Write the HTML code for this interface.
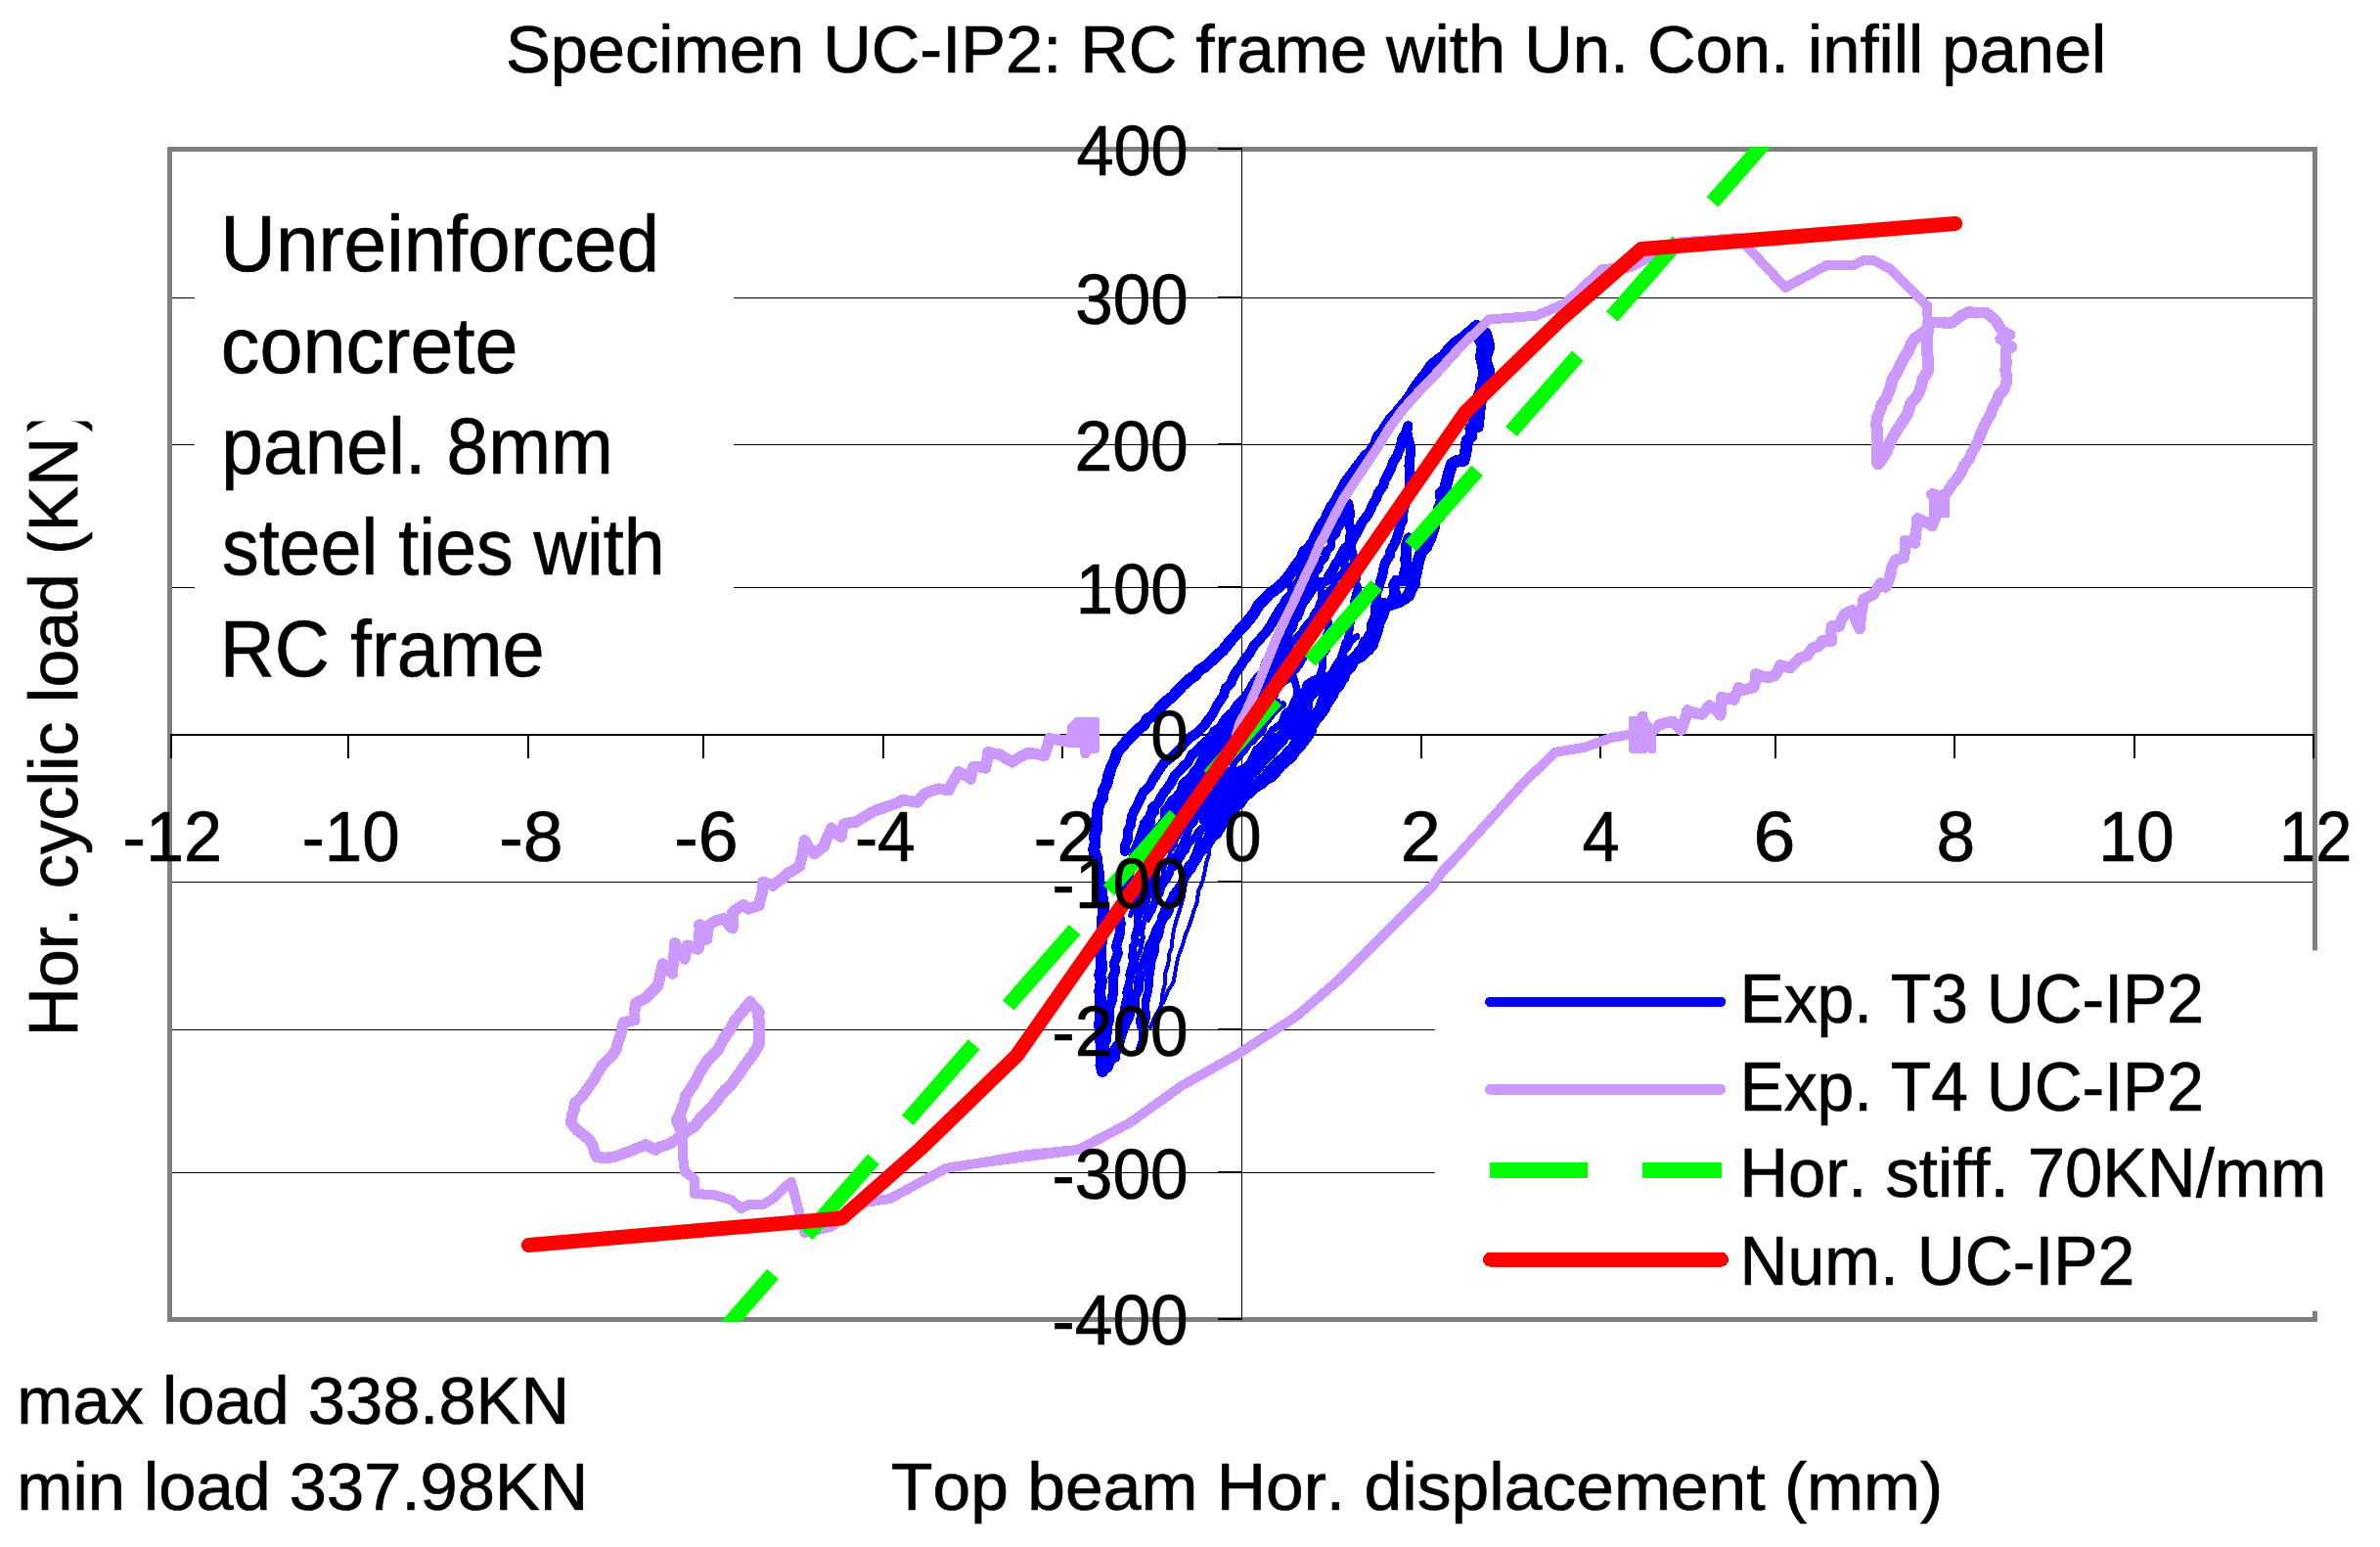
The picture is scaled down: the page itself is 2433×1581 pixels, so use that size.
<!DOCTYPE html>
<html><head><meta charset="utf-8"><title>Specimen UC-IP2</title>
<style>html,body{margin:0;padding:0;background:#fff;overflow:hidden}svg{display:block}
text{font-family:"Liberation Sans",sans-serif;fill:#000;font-kerning:none;stroke:#000;stroke-width:0.7px}</style></head><body>
<svg width="2433" height="1581" viewBox="0 0 2433 1581">
<rect x="0" y="0" width="2433" height="1581" fill="#fff"/>
<defs><clipPath id="plot"><rect x="171.4" y="150.2" width="2197.2" height="1200.6"/></clipPath>
<clipPath id="ycl"><rect x="0" y="430.6" width="170" height="700"/></clipPath></defs>
<g stroke="#000" stroke-width="1" shape-rendering="crispEdges">
<line x1="173.7" y1="304.5" x2="2366.2" y2="304.5"/>
<line x1="173.7" y1="454.5" x2="2366.2" y2="454.5"/>
<line x1="173.7" y1="600.5" x2="2366.2" y2="600.5"/>
<line x1="173.7" y1="901.5" x2="2366.2" y2="901.5"/>
<line x1="173.7" y1="1052.5" x2="2366.2" y2="1052.5"/>
<line x1="173.7" y1="1198.5" x2="2366.2" y2="1198.5"/>
</g>
<rect x="173.7" y="152.7" width="2192.5" height="1195.6" fill="none" stroke="#808080" stroke-width="4.8" shape-rendering="crispEdges"/>
<rect x="199" y="190" width="551" height="535" fill="#fff"/>
<g stroke="#000" shape-rendering="crispEdges">
<line x1="173.7" y1="751" x2="2366.2" y2="751" stroke-width="2"/>
<line x1="1269.5" y1="152.7" x2="1269.5" y2="1348.3" stroke-width="1.2"/>
<line x1="174.6" y1="751" x2="174.6" y2="775" stroke-width="2"/>
<line x1="356.1" y1="751" x2="356.1" y2="775" stroke-width="2"/>
<line x1="539.7" y1="751" x2="539.7" y2="775" stroke-width="2"/>
<line x1="719.2" y1="751" x2="719.2" y2="775" stroke-width="2"/>
<line x1="902.7" y1="751" x2="902.7" y2="775" stroke-width="2"/>
<line x1="1085.7" y1="751" x2="1085.7" y2="775" stroke-width="2"/>
<line x1="1269.5" y1="751" x2="1269.5" y2="775" stroke-width="2"/>
<line x1="1452.5" y1="751" x2="1452.5" y2="775" stroke-width="2"/>
<line x1="1636.2" y1="751" x2="1636.2" y2="775" stroke-width="2"/>
<line x1="1814.5" y1="751" x2="1814.5" y2="775" stroke-width="2"/>
<line x1="1998.0" y1="751" x2="1998.0" y2="775" stroke-width="2"/>
<line x1="2182.0" y1="751" x2="2182.0" y2="775" stroke-width="2"/>
<line x1="2365.3" y1="751" x2="2365.3" y2="775" stroke-width="2"/>
<line x1="1244.7" y1="152.2" x2="1269.5" y2="152.2" stroke-width="2"/>
<line x1="1244.7" y1="304.0" x2="1269.5" y2="304.0" stroke-width="2"/>
<line x1="1244.7" y1="454.0" x2="1269.5" y2="454.0" stroke-width="2"/>
<line x1="1244.7" y1="600.0" x2="1269.5" y2="600.0" stroke-width="2"/>
<line x1="1244.7" y1="750.0" x2="1269.5" y2="750.0" stroke-width="2"/>
<line x1="1244.7" y1="901.0" x2="1269.5" y2="901.0" stroke-width="2"/>
<line x1="1244.7" y1="1052.0" x2="1269.5" y2="1052.0" stroke-width="2"/>
<line x1="1244.7" y1="1198.0" x2="1269.5" y2="1198.0" stroke-width="2"/>
<line x1="1244.7" y1="1347.8" x2="1269.5" y2="1347.8" stroke-width="2"/>
</g>
<g clip-path="url(#plot)" shape-rendering="crispEdges" stroke-linejoin="round" stroke-linecap="round">
<polyline points="1127.0,1095.0 1125.4,1088.3 1125.6,1080.0 1126.0,1071.5 1125.2,1064.0 1125.4,1056.9 1123.8,1047.2 1125.4,1040.3 1124.4,1032.5 1125.2,1024.1 1124.6,1018.6 1124.3,1011.9 1126.0,1002.5 1124.1,996.5 1126.5,988.9 1125.6,982.0 1125.3,974.6 1125.2,967.0 1126.5,960.4 1126.4,952.6 1126.7,946.0 1127.2,937.7 1128.1,931.7 1127.9,924.3 1126.4,915.8 1126.3,909.9 1123.2,901.1 1123.1,893.9 1122.0,886.0 1120.8,876.8 1118.1,868.6 1119.6,861.4 1119.1,853.7 1121.2,846.8 1121.1,838.6 1121.8,830.8 1123.0,822.6 1127.1,815.5 1127.9,808.2 1131.4,801.0 1133.2,793.0 1135.8,784.8 1139.1,777.6 1142.0,768.9 1147.3,762.9 1152.5,756.2 1156.7,752.1 1163.0,745.8 1169.2,741.0 1172.8,734.9 1178.1,731.8 1183.8,725.7 1188.2,720.6 1194.5,714.9 1199.1,711.5 1204.6,705.2 1209.3,700.3 1216.4,693.9 1221.4,690.8 1226.1,684.9 1233.0,680.5 1238.8,674.9 1244.2,669.6 1250.0,664.8 1253.6,660.2 1259.4,653.2 1263.9,648.4 1268.1,642.6 1273.2,637.8 1277.7,632.1 1283.0,625.3 1286.7,618.0 1292.9,611.9 1298.3,606.3 1306.1,601.0 1312.1,595.3 1317.5,588.7 1321.1,583.7 1326.3,576.0 1330.1,571.1 1333.1,564.0 1339.1,558.7 1342.7,553.4 1346.0,546.1 1350.7,537.2 1355.3,530.7 1358.0,524.3 1361.5,517.3 1366.2,511.3 1369.2,505.0 1372.9,498.6 1376.3,492.1 1381.3,485.3 1385.6,479.7 1389.7,474.4 1395.7,466.4 1401.0,461.6 1405.8,454.5 1408.4,447.0 1412.5,442.4 1416.3,436.1 1420.9,429.3 1426.4,423.5 1430.3,418.7 1436.0,411.7 1441.1,405.4 1444.2,399.5 1449.0,393.0 1453.7,386.5 1458.3,380.9 1462.7,374.2 1468.8,368.8 1475.8,363.8 1480.1,357.9 1486.4,351.2 1493.5,346.6 1501.5,339.8 1509.7,332.8 1519.2,341.0 1522.5,354.0 1518.5,367.0 1522.5,380.0 1520.6,388.3 1517.5,397.0 1514.4,405.8 1512.5,417.0 1506.5,429.3" fill="none" stroke="#0000FF" stroke-width="11.8" />
<polyline points="1512.0,336.0 1512.9,340.3 1513.3,348.3 1516.0,352.0 1515.3,359.3 1514.0,365.0 1515.7,371.0 1517.0,378.0 1516.9,384.0 1516.1,390.0 1514.0,395.0 1515.0,399.8 1511.8,403.6 1513.7,408.7 1513.0,415.5 1512.0,420.0" fill="none" stroke="#0000FF" stroke-width="12.3" />
<polyline points="1512.0,420.0 1511.4,428.6 1510.5,436.0 1503.6,437.7 1504.1,446.0 1499.7,450.4 1499.3,456.3 1497.9,464.3 1496.3,470.6 1490.8,470.7 1484.5,473.9 1481.7,481.9 1479.5,490.8 1477.1,499.7 1472.8,504.2 1474.2,512.2 1471.4,518.8 1471.1,527.7 1466.4,532.0 1465.5,539.7 1462.5,548.6 1460.4,553.6 1457.6,559.7 1453.6,563.2 1451.2,569.3 1449.2,576.5 1447.6,585.0 1446.6,587.7 1445.9,596.7 1442.5,601.7 1440.2,608.5 1435.8,611.8 1430.1,615.0 1421.4,617.8 1415.1,617.6 1415.3,622.1 1412.6,630.6 1409.5,635.8 1407.9,643.5 1406.1,649.1 1403.7,655.4 1402.5,659.7 1398.0,664.4 1390.2,671.3 1383.6,674.4 1381.1,680.6 1375.4,686.2 1373.1,693.3 1367.0,691.8 1360.9,692.3 1352.1,693.3 1349.0,698.1 1344.3,705.4 1337.4,710.1 1336.2,716.5 1335.5,723.1 1332.8,727.7 1332.4,737.2 1331.1,741.6 1324.6,743.2 1318.5,749.6 1310.1,752.1 1307.7,756.2 1302.8,761.1 1298.2,767.5 1292.1,775.6 1289.1,779.4 1282.1,783.2 1280.2,785.6 1272.1,792.1 1268.1,794.1 1264.6,800.3 1259.7,804.0 1257.2,810.6 1255.5,815.1" fill="none" stroke="#0000FF" stroke-width="12.3" />
<polyline points="1440.0,550.0 1437.6,557.5 1437.5,564.7 1436.9,572.3 1438.1,577.1 1435.4,587.6 1437.5,593.3 1427.4,593.3 1424.7,598.4 1426.2,605.8 1423.9,612.1 1420.7,618.5 1413.9,616.8 1412.5,621.1 1410.5,630.0 1408.1,635.3 1406.0,640.0 1403.6,643.8 1400.9,651.8 1395.8,655.0 1393.5,662.7 1388.8,667.5 1381.9,674.2 1374.6,677.4 1372.0,685.6 1367.1,691.3 1364.1,696.3 1356.9,698.2 1351.8,694.5 1343.1,696.3 1336.6,700.7 1335.3,707.2 1328.4,713.1 1327.7,718.5 1325.9,725.2 1324.0,732.4 1323.7,740.1 1322.1,744.6 1315.9,750.0 1309.7,753.8 1301.1,755.1 1297.7,759.1 1294.3,768.1 1290.3,771.8 1285.2,775.7 1280.1,782.4 1276.3,786.4 1268.7,787.8 1265.9,795.6 1259.1,797.1 1254.1,803.7 1252.4,806.1 1248.7,814.0 1246.5,818.1" fill="none" stroke="#0000FF" stroke-width="11.2" />
<polyline points="1259.2,795.5 1254.0,801.9 1250.1,809.6 1244.7,817.9 1241.6,825.8 1239.1,834.3 1234.8,840.1 1230.4,847.8 1226.5,856.0 1223.0,863.2 1220.6,874.1 1219.9,882.2 1217.3,888.7 1213.3,898.5 1211.3,906.5 1209.9,916.0 1208.2,922.1 1205.3,932.2 1202.9,939.1 1200.7,947.3 1198.7,956.9 1198.1,967.4 1195.1,975.2 1194.3,985.5 1191.2,994.7 1191.1,1005.2 1188.7,1013.3 1187.7,1022.8 1186.1,1032.5 1180.0,1040.7 1176.0,1050.0" fill="none" stroke="#0000FF" stroke-width="4.0" />
<polyline points="1254.2,803.1 1251.2,813.1 1248.4,822.9 1244.1,830.8 1242.9,840.9 1238.9,848.3 1239.7,857.7 1236.5,866.1 1236.0,873.3 1233.1,882.1 1231.5,891.3 1229.1,901.6 1225.0,910.7 1223.9,921.6 1220.1,931.7 1218.4,938.2 1215.3,947.0 1211.3,956.9 1209.2,965.2 1204.8,976.9 1202.9,984.4 1201.3,994.7 1199.4,1004.2 1193.9,1012.9 1191.2,1019.9 1185.7,1030.5 1180.0,1040.0" fill="none" stroke="#0000FF" stroke-width="4.0" />
<polyline points="1128.0,1086.8 1129.6,1081.4 1129.5,1073.4 1128.8,1068.3 1131.0,1062.3 1131.5,1056.0 1131.9,1049.7 1134.1,1042.2 1134.3,1036.7 1134.0,1030.0 1136.6,1022.8 1137.4,1017.8 1138.3,1010.4 1138.0,1004.5 1137.5,999.2 1140.3,991.9 1138.9,985.0 1141.2,979.0 1142.8,973.7 1141.2,967.6 1142.4,962.2 1144.7,954.8 1144.6,949.1 1145.8,943.7 1144.1,935.6 1146.2,929.8 1147.9,923.2 1149.3,916.6 1151.5,911.9 1150.6,906.4 1152.5,899.0 1154.4,892.8 1155.0,889.0 1157.8,880.5 1159.4,874.5 1159.9,870.0 1161.7,865.6 1164.9,858.2 1166.4,852.8 1168.0,849.1 1170.0,841.7 1174.4,836.1 1177.4,830.0 1178.2,825.1 1183.6,821.0 1186.5,815.6 1189.8,810.1 1194.7,803.8 1197.7,799.1 1201.4,791.9 1205.6,787.8 1210.9,782.1 1214.7,778.7 1218.3,771.4 1222.7,768.1 1228.0,762.1 1233.0,757.9 1237.4,754.2 1241.4,747.6 1247.8,743.3 1250.5,737.9 1255.7,731.9 1260.4,728.0 1263.9,722.1 1269.1,716.8 1272.6,713.4 1277.3,706.2 1280.2,700.7 1283.5,695.9 1287.8,690.6 1292.1,686.3 1294.0,677.9 1297.9,672.5 1300.0,669.0 1303.7,663.2 1307.9,658.3 1312.8,650.0 1315.2,645.8 1317.7,641.5 1322.3,634.3 1326.3,629.9 1328.8,623.2 1331.1,617.3 1334.6,612.5 1339.4,605.4 1342.5,600.9 1350.1,595.9 1356.8,593.3 1358.4,588.1 1362.3,583.3 1365.2,576.5 1369.2,571.6 1371.3,566.4 1374.8,560.3 1380.8,555.6 1384.4,548.7 1387.4,544.2 1390.4,537.8 1392.7,533.4 1398.3,526.2 1401.3,520.5 1403.2,515.6 1407.2,509.2 1408.7,504.0 1414.2,496.3 1415.6,490.8 1419.7,483.4 1422.3,477.8 1424.0,472.3 1428.2,465.9 1430.9,458.6 1432.4,453.8 1433.4,448.6 1437.3,441.6 1439.2,435.3 1438.2,441.3 1439.5,447.8 1441.8,456.9 1442.0,463.7 1441.0,470.0 1440.5,476.0 1441.6,483.4 1441.0,491.8 1440.8,499.2 1439.4,504.3 1436.8,512.0 1435.4,518.4 1434.4,524.1 1434.1,531.1" fill="none" stroke="#0000FF" stroke-width="10.1" />
<polyline points="1434.1,531.1 1431.3,536.8 1430.1,543.3 1427.4,551.3 1425.3,556.5 1421.6,562.5 1420.7,568.1 1417.0,573.5 1414.9,578.1 1413.9,584.9 1411.2,594.3 1408.9,601.7 1406.8,607.2 1407.3,615.6 1406.1,620.3 1406.3,625.5 1405.0,632.5 1401.8,638.3 1401.9,645.8 1398.0,652.0 1394.4,656.7 1392.5,661.4 1389.0,665.8 1384.3,671.6 1382.9,677.6 1379.1,683.1 1375.2,688.7 1372.4,693.2 1370.2,699.7 1365.2,704.7 1362.8,710.9 1360.2,714.5 1356.2,720.5 1354.4,724.7 1349.5,731.9 1345.4,736.5 1341.8,742.4 1340.7,747.4 1337.8,752.0 1333.4,757.9 1329.4,763.1 1324.5,767.7 1320.7,774.2 1315.1,778.3 1309.3,783.4 1306.0,787.8 1301.0,793.7 1296.0,796.1 1289.2,801.7 1282.7,805.6 1278.6,810.2 1273.1,814.0 1268.2,821.0 1263.8,824.4 1260.0,831.2 1254.5,835.0 1251.2,840.1 1247.5,846.6 1244.4,851.9 1238.8,855.9 1235.2,862.6 1233.0,865.7 1226.8,871.3 1223.8,877.5 1219.6,883.0 1217.3,888.0 1212.1,894.1 1209.8,900.1 1208.1,906.1 1203.4,911.5 1200.4,915.4 1196.5,922.3 1195.1,929.0 1192.5,934.8 1188.5,939.5 1185.1,946.0 1182.5,950.1 1180.4,956.2 1178.2,961.7 1174.7,967.8 1173.6,974.6 1170.6,980.2 1168.6,987.7 1168.5,991.5 1165.6,998.1 1164.1,1003.4 1163.7,1012.0 1160.8,1016.5 1157.8,1021.3 1156.7,1027.8 1155.4,1034.5 1154.1,1039.7 1149.4,1048.3 1148.6,1052.1 1146.4,1057.9 1144.0,1067.0 1141.7,1071.8 1139.7,1078.9 1134.9,1084.4 1132.5,1091.3" fill="none" stroke="#0000FF" stroke-width="10.1" />
<polyline points="1132.5,1088.3 1134.3,1084.1 1136.6,1077.8 1139.1,1070.9 1144.5,1065.2 1146.0,1060.4 1148.1,1054.9 1150.8,1049.4 1150.5,1044.2 1150.8,1036.1 1151.2,1030.0 1153.0,1025.7 1153.5,1017.1 1153.7,1013.5 1153.8,1006.2 1155.3,1000.0 1155.8,993.9 1156.9,987.6 1158.7,981.1 1158.1,974.6 1158.0,967.4 1161.3,962.7 1159.9,958.0 1162.0,951.4 1163.8,944.1 1163.2,939.9 1163.4,933.6 1164.2,927.4 1166.9,922.2 1167.2,914.9 1170.1,908.5 1170.0,901.0 1172.8,895.7 1173.3,890.4 1176.4,883.4 1177.4,875.6 1180.0,870.0 1181.3,863.3 1184.8,857.3 1187.9,852.3 1192.2,844.1 1193.4,837.9 1196.5,832.6 1200.9,828.7 1203.4,822.7 1207.6,815.1 1212.9,810.8 1215.0,805.7 1219.1,800.3 1223.8,795.2 1227.6,789.7 1231.9,783.9 1234.4,778.0 1238.3,774.0 1243.0,769.5 1247.3,763.8 1251.2,757.9 1256.1,751.0 1256.6,745.6 1261.2,741.3 1265.7,735.0 1269.8,728.4 1272.8,723.4 1276.3,717.2 1278.6,713.0 1283.1,708.0 1286.2,701.6 1286.8,697.0 1290.6,688.5 1294.2,683.9 1296.8,677.1 1298.8,672.6 1302.8,665.4 1306.0,660.7 1308.9,655.6 1312.8,649.0 1314.8,642.8 1317.4,636.5 1321.1,630.5 1325.0,626.4 1327.7,618.6 1330.0,614.0 1333.4,608.4 1335.0,604.2 1339.9,597.2 1342.6,590.7 1344.0,586.0 1348.4,580.8 1349.0,575.1 1354.6,569.9 1356.2,563.5 1360.6,558.7 1361.5,550.5 1365.5,546.3 1368.0,539.9 1372.5,532.4 1374.5,526.1 1377.2,521.5 1379.1,514.2 1380.2,520.0 1380.6,526.1 1379.5,534.8 1381.1,539.3 1379.7,546.6 1381.7,553.2 1380.9,559.0 1383.2,565.7 1383.9,571.3 1383.6,576.8 1385.0,583.0 1387.1,588.2 1385.9,595.6 1388.2,600.9 1386.2,607.1 1384.4,614.7 1383.6,619.5 1383.9,626.5 1381.0,634.1 1380.1,638.9 1379.1,645.8 1378.2,653.0 1375.4,657.8 1373.3,665.3 1371.2,671.0 1368.8,678.7 1365.4,684.7 1363.5,690.6 1361.5,697.7 1359.1,702.7 1353.9,707.7 1352.7,711.8 1349.2,719.7 1347.6,725.5 1342.3,730.2 1340.7,735.4 1337.5,741.4 1331.7,745.0 1329.2,753.0 1324.1,757.0 1320.4,763.8 1315.2,768.3 1311.3,773.6 1305.5,777.6 1301.0,782.6 1297.0,786.8 1293.0,792.4 1286.7,797.1 1283.2,802.7 1278.3,806.7 1274.9,809.8 1268.7,814.6 1264.0,820.1 1259.2,822.1 1256.0,828.4 1252.2,832.0 1246.2,837.1 1242.1,840.1 1239.4,845.6 1235.5,852.6 1233.3,858.2 1227.3,862.0 1224.7,867.1 1222.4,872.4 1219.3,879.6 1214.7,885.0 1212.0,890.5 1209.9,896.8 1206.8,903.7 1203.1,909.7 1199.5,913.6 1197.5,919.9 1192.8,926.2 1190.3,930.3 1187.3,937.3 1187.0,943.8 1186.0,950.5 1184.5,956.3 1181.0,963.5 1181.3,971.0 1179.6,975.4 1177.4,981.7 1176.4,989.6 1175.3,996.9 1174.5,1002.2 1174.5,1006.5 1174.0,1012.3 1171.8,1019.7 1170.9,1026.9 1171.0,1031.9 1171.9,1036.3 1171.3,1042.0 1169.1,1049.4 1168.2,1057.3 1168.1,1063.9 1165.4,1071.8" fill="none" stroke="#0000FF" stroke-width="8.4" />
<polyline points="1169.1,929.8 1170.2,923.3 1170.4,918.7 1171.2,911.5 1175.3,904.0 1175.5,899.6 1175.1,892.7 1178.4,886.8 1179.8,879.8 1179.4,873.5 1181.5,870.0 1182.8,862.5 1185.9,857.8 1188.1,852.1 1190.0,845.0 1194.7,840.8 1196.8,833.2 1199.1,828.0 1202.0,824.3 1205.6,817.7 1208.5,813.6 1214.6,805.6 1216.9,801.6 1219.7,796.1 1226.5,789.7 1229.4,784.4 1233.0,780.3 1236.7,776.3 1238.9,768.3 1241.9,764.7 1245.1,758.0 1250.1,755.5 1253.3,748.6 1257.4,742.4 1260.4,738.4 1264.0,732.3 1267.6,729.8 1269.2,723.5 1274.4,717.1 1276.7,714.8 1282.5,707.0 1285.0,704.6 1287.8,698.1 1290.3,692.8 1293.1,686.4 1298.6,681.5 1302.3,674.3 1304.4,671.2 1308.6,664.3 1311.4,660.4 1315.2,653.2 1318.2,646.1 1321.8,641.5 1323.5,635.5 1326.4,630.2 1328.1,625.6 1331.0,620.5 1333.6,614.9 1338.0,608.4 1343.5,600.9 1347.1,593.4 1349.3,599.0 1351.0,606.0 1350.9,614.1 1353.0,618.6 1356.1,625.0 1357.0,630.8 1358.1,638.3 1358.2,643.9 1354.8,652.6 1354.3,658.9 1356.0,664.2 1351.9,668.9 1351.7,676.4 1351.7,683.1 1349.3,690.8 1345.7,694.4 1343.7,700.7 1339.4,708.2 1338.6,712.9 1335.2,720.5 1331.8,726.5 1329.6,730.8 1326.7,735.5 1322.9,742.7 1320.1,747.2 1314.4,751.1 1312.4,757.9 1307.9,761.8 1303.7,766.5 1299.6,771.9 1292.6,776.8 1289.4,783.0 1285.0,787.8 1280.4,791.0 1276.5,797.8 1272.5,802.1 1266.6,806.5 1265.2,809.4 1259.8,813.7 1256.8,816.5 1251.2,822.2 1247.6,826.8 1242.5,831.8 1239.8,834.3 1235.6,840.0 1230.9,845.0 1225.5,849.4 1222.4,854.8 1217.9,859.1 1214.7,862.5 1212.2,868.3 1209.4,871.7 1205.2,878.9 1202.2,883.6 1197.0,888.2 1195.5,893.5 1191.9,899.9 1187.5,905.7 1185.7,912.5 1181.2,919.5 1179.2,925.7 1175.1,932.5 1173.6,937.3" fill="none" stroke="#0000FF" stroke-width="8" />
<polyline points="1196.5,855.0 1199.0,849.2 1201.3,842.9 1204.3,839.3 1206.1,831.5 1207.9,826.5 1209.4,822.9 1214.0,814.3 1214.7,810.2 1219.3,805.3 1221.2,799.0 1225.6,794.4 1229.0,789.8 1230.7,784.9 1236.8,780.3 1239.0,772.1 1242.1,768.3 1244.4,762.0 1251.3,757.5 1253.4,754.2 1257.2,748.0 1261.5,741.3 1265.9,738.7 1269.5,732.5 1272.3,726.0 1277.0,719.9 1281.2,716.8 1285.7,710.4 1290.2,703.6 1293.2,698.7 1296.9,693.6 1300.9,687.3 1305.1,682.1 1306.8,679.3 1312.9,673.0 1315.2,668.2 1316.7,673.6 1318.1,681.0 1319.6,685.6 1322.3,692.0 1324.8,700.3 1326.1,705.5 1325.2,712.1 1322.0,718.5 1319.0,726.0 1318.3,731.3 1317.0,738.4 1311.8,744.0 1309.6,749.6 1306.7,756.2 1300.9,761.4 1299.3,767.2 1294.2,772.8 1290.3,775.7 1285.7,781.3 1281.2,785.5 1277.5,790.1 1273.0,793.2 1268.6,800.1 1264.3,801.4 1260.4,807.2 1253.7,811.0 1248.8,813.2 1243.9,818.0 1241.7,821.8 1234.9,825.3 1229.9,829.0 1225.6,834.1 1220.4,836.2 1214.7,840.1 1210.6,847.0 1204.5,850.5 1201.4,857.5 1196.5,862.5" fill="none" stroke="#0000FF" stroke-width="7.5" />
<polyline points="1141.7,1082.3 1142.5,1076.5 1144.0,1068.7 1143.0,1063.1 1144.7,1058.1 1146.8,1051.2 1147.3,1045.1 1147.0,1038.2 1148.0,1033.3 1148.6,1026.7 1150.8,1019.5 1150.4,1014.1 1152.1,1007.3 1154.6,1000.1 1153.1,996.8 1155.4,988.4 1157.7,985.0 1156.0,977.4 1157.0,971.1 1159.4,964.7 1159.9,959.7 1161.9,951.8 1161.7,947.6 1163.8,939.8 1165.7,933.5 1166.4,925.6 1168.8,921.9 1171.0,914.4 1170.9,907.4 1172.4,900.7 1175.4,895.4 1175.7,887.9 1178.4,882.5 1181.7,876.2 1182.8,870.0" fill="none" stroke="#0000FF" stroke-width="6.0" />
<polyline points="1164.5,1049.4 1163.5,1043.3 1164.4,1037.2 1162.6,1028.7 1162.2,1022.0 1163.7,1015.1 1162.8,1008.7 1161.8,1002.7 1163.1,996.6 1161.8,989.6 1161.4,982.5 1162.8,977.9 1165.8,971.3 1166.9,964.7 1168.3,958.4 1167.3,952.2 1169.1,944.8 1170.3,939.1 1171.9,931.7 1172.6,925.3 1173.7,918.0 1176.6,913.6 1178.4,906.9 1178.2,899.9" fill="none" stroke="#0000FF" stroke-width="5.0" />
<polyline points="1150.0,870.0 1150.2,863.6 1153.2,857.3 1153.4,848.3 1156.1,842.5 1156.8,835.0 1159.1,829.4 1162.4,823.5 1165.6,816.5 1168.7,809.4 1175.2,803.5 1178.2,797.6 1181.7,792.2 1187.0,783.9 1190.8,778.7 1197.3,774.1 1203.4,768.6 1206.8,764.6 1211.1,759.3 1215.4,754.4 1221.1,750.9 1227.2,745.6 1231.8,740.6 1235.0,735.8 1239.5,730.2 1244.0,721.2 1247.6,715.6 1251.0,710.4 1252.9,703.1 1258.2,698.7 1260.2,693.0 1263.0,687.3 1266.9,682.8 1271.5,675.1 1276.2,669.5 1279.0,665.2 1282.1,659.1 1287.3,654.6 1290.5,649.8 1294.2,646.3 1297.7,641.2 1301.4,634.8 1304.8,629.1 1308.7,622.4 1312.0,618.0 1315.5,611.6 1320.3,608.1 1321.5,600.1 1327.0,595.8 1330.0,590.0 1332.2,584.6 1338.5,577.8 1340.3,572.2 1345.7,565.3 1348.0,560.0 1350.9,552.8 1355.4,547.4 1357.8,540.9 1362.0,535.0 1364.8,529.7 1371.7,525.8 1373.8,522.1 1378.6,516.1 1378.6,522.1 1378.0,528.5 1378.9,535.5 1381.4,542.3 1379.9,550.1 1381.1,556.5 1379.3,562.0 1375.8,568.4 1372.0,575.0" fill="none" stroke="#0000FF" stroke-width="10.1" />
<polyline points="1170.0,870.0 1173.0,861.5 1173.9,855.0 1176.3,847.6 1177.5,842.5 1178.0,835.0 1181.9,830.5 1182.8,822.5 1187.0,816.3 1188.5,810.2 1192.0,805.0 1197.6,800.4 1201.9,792.7 1206.8,787.8 1210.0,782.0 1214.7,776.9 1220.8,770.7 1226.7,766.6 1232.0,762.0 1237.2,758.3 1242.4,751.7 1248.1,748.5 1252.0,742.0 1256.5,737.8 1259.6,729.9 1264.5,726.8 1270.0,720.0" fill="none" stroke="#0000FF" stroke-width="6.0" />
<polyline points="1169.5,872.0 1172.6,865.2 1173.6,860.7 1177.3,853.2 1181.0,848.8 1186.3,842.1 1189.3,838.3 1189.3,828.7 1191.9,825.8 1196.2,818.5 1200.5,815.0 1206.0,808.7 1208.1,801.1 1210.0,798.8 1216.5,793.4 1220.0,787.8 1224.2,783.4 1227.6,776.6 1229.8,771.8 1234.4,768.3 1240.4,761.2 1241.0,756.4 1245.7,753.7 1249.9,748.8 1253.2,743.1 1257.8,738.3 1260.8,733.6 1266.4,729.2 1272.4,722.6 1273.1,719.0 1280.9,711.9 1283.3,708.5 1287.6,701.5 1290.4,695.5 1295.9,692.3 1299.5,687.9 1302.6,681.3 1305.1,675.5 1309.4,671.4 1314.6,667.2 1317.4,661.8 1321.1,656.4 1325.3,651.5 1329.7,647.6 1333.0,641.5 1336.0,638.0 1341.4,632.3 1342.6,628.0 1347.0,622.3 1349.2,616.1 1352.5,611.5 1357.1,605.3 1362.9,600.7 1363.6,594.4 1367.2,590.4 1372.8,585.0 1376.5,578.0" fill="none" stroke="#0000FF" stroke-width="7.38" />
<polyline points="1204.8,823.7 1206.7,817.1 1212.0,814.2 1214.8,806.8 1219.1,804.2 1222.6,799.0 1228.5,791.5 1231.8,787.6 1235.5,782.7 1238.9,779.9 1241.4,771.2 1248.6,768.0 1249.4,762.9 1253.8,760.6 1256.9,752.9 1262.2,749.5 1265.6,744.5 1271.7,740.6 1273.6,732.8 1279.8,730.7 1280.8,724.4 1288.5,718.8 1290.1,714.1 1295.5,707.6 1300.2,701.4 1303.6,696.5 1304.9,692.0 1309.8,687.3 1314.8,684.1 1319.8,679.7 1323.6,673.9 1325.4,667.8 1328.3,661.5 1333.3,658.1 1337.3,651.3 1339.1,649.6 1344.4,643.8 1346.1,637.6 1353.1,633.6 1355.2,628.1" fill="none" stroke="#0000FF" stroke-width="7.38" />
<polyline points="1242.6,788.2 1244.7,782.3 1249.3,780.3 1253.9,774.8 1256.0,769.2 1262.8,764.5 1266.9,761.2 1268.4,752.9 1272.7,750.1 1278.0,743.4 1279.3,740.5 1286.9,735.6 1291.6,727.8 1292.4,722.2 1300.3,716.9 1302.6,713.2 1305.0,706.2 1308.3,701.3 1313.3,696.8 1316.9,694.9 1320.0,689.4 1326.1,683.5 1329.2,679.3 1332.6,673.2" fill="none" stroke="#0000FF" stroke-width="6.56" />
<polyline points="1197.5,882.9 1200.4,878.0 1204.1,871.2 1206.2,868.2 1209.9,860.0 1211.6,856.3 1213.7,852.3 1216.5,844.8 1220.9,840.1 1221.8,834.2 1224.7,828.5 1229.2,822.6 1233.3,820.4 1236.3,815.9 1242.0,809.8 1244.7,803.2 1245.9,801.7 1251.3,794.9 1254.2,789.0 1260.4,786.4 1261.0,780.0 1265.3,775.0 1268.1,771.3 1273.0,766.0 1276.3,760.2 1281.2,757.0 1283.7,753.2 1290.8,746.6 1292.6,739.7 1296.9,735.1 1301.0,729.6 1305.8,724.0 1311.3,719.9" fill="none" stroke="#0000FF" stroke-width="7.38" />
<polyline points="1229.5,838.9 1233.2,834.4 1238.1,830.8 1241.9,823.9 1245.8,819.3 1246.8,813.2 1251.3,808.6 1254.0,805.6 1258.5,800.4 1263.3,796.7 1264.3,789.2 1268.7,786.4 1274.7,782.7 1278.8,777.1 1281.4,771.2 1283.8,766.2 1288.3,762.6 1292.7,757.7 1297.2,751.6 1300.9,745.7 1306.8,741.7 1310.8,737.3 1313.2,729.2 1318.4,725.4" fill="none" stroke="#0000FF" stroke-width="7.38" />
<polyline points="1238.0,844.1 1242.3,839.7 1247.1,834.8 1249.3,829.8 1254.5,823.6 1259.3,818.9 1261.4,811.3 1266.4,806.5 1271.5,801.4 1275.9,795.2 1280.9,788.4 1284.2,784.5 1285.7,780.3 1290.0,773.2 1296.1,768.9 1299.7,762.2 1303.4,756.5 1310.4,751.2 1312.0,745.9 1319.3,742.4 1323.3,738.8 1326.3,731.6 1330.1,726.1 1333.4,720.6 1338.0,718.3 1341.5,712.4 1346.8,707.7 1349.7,701.5 1351.2,695.8 1356.6,691.2 1361.8,685.9 1364.9,680.1 1368.4,674.8 1373.0,672.1 1373.7,666.5 1377.8,662.5 1382.0,654.2 1387.1,650.6" fill="none" stroke="#0000FF" stroke-width="6.56" />
<polyline points="1173.9,940.5 1175.0,936.4 1179.4,930.2 1180.5,924.1 1179.1,917.1 1181.9,911.5 1184.4,904.9 1186.7,899.0 1189.6,894.6 1189.5,887.9 1191.9,880.7 1196.2,874.8 1195.9,869.7 1201.2,864.3 1201.6,859.5 1205.0,854.7 1207.1,848.0 1210.7,844.0 1212.5,838.1 1216.7,831.0 1220.1,825.6 1223.0,821.1 1229.6,818.1 1233.4,811.6 1234.3,806.2 1239.7,800.4 1244.8,794.5 1246.6,791.2 1249.3,785.3 1252.7,780.0 1256.8,776.5 1263.3,772.4 1265.8,766.9 1267.7,763.0 1273.7,756.3 1276.6,753.2 1281.4,746.8 1285.9,742.1 1288.0,735.9 1294.9,732.3 1296.3,728.4 1301.4,720.6 1306.6,716.2" fill="none" stroke="#0000FF" stroke-width="4.92" />
<polyline points="1155.5,935.9 1158.1,928.0 1159.7,924.8 1162.4,917.3 1163.5,910.5 1164.9,903.3 1167.4,899.0 1167.7,891.9 1171.4,886.0 1174.1,881.9 1174.2,873.8 1178.4,866.3 1178.3,861.3 1182.4,857.1 1187.2,850.6 1189.3,844.8 1189.9,838.8 1193.5,832.5 1195.6,827.6 1200.5,821.1 1206.0,814.2 1208.6,808.9 1211.5,804.2 1217.5,801.3 1221.5,794.1 1224.6,790.8 1227.7,786.5 1231.5,779.6 1235.8,774.0 1239.9,770.0 1241.7,765.8 1244.8,760.3 1250.6,753.7 1254.8,749.3 1258.5,745.5 1261.7,741.4 1264.1,738.1 1268.5,729.5 1274.5,724.6 1278.9,720.2 1283.4,715.2 1286.5,708.7 1291.6,704.6 1296.1,699.3 1299.1,696.3 1300.8,688.8 1306.7,682.9 1311.2,679.3 1313.2,673.5 1319.5,668.0 1321.4,664.8" fill="none" stroke="#0000FF" stroke-width="4.92" />
<polyline points="1264.0,750.0 1267.8,738.4 1273.6,728.0 1278.8,716.4 1283.9,704.8 1289.1,691.8 1294.3,678.9 1299.5,666.0 1304.6,653.1 1310.4,640.1 1316.3,627.2 1322.7,614.3 1329.2,600.1 1335.6,585.8 1342.1,572.9 1347.3,560.0 1360.2,534.5 1373.6,509.2 1390.4,484.0 1407.2,458.8 1420.7,437.0 1434.1,418.5 1450.9,400.0 1470.0,380.0 1492.0,355.5 1522.3,326.5 1570.2,322.7 1600.4,310.0 1638.2,274.8 1666.0,273.5 1716.0,247.5 1777.5,243.0 1825.0,293.8 1867.5,271.0 1895.0,271.0 1905.0,266.0 1915.0,266.0 1932.5,275.0 1970.0,312.5 1970.8,330.0" fill="none" stroke="#CC99FF" stroke-width="10" />
<polyline points="1970.8,330.0 1982.5,329.5 1988.1,330.1 1995.0,330.0 2000.3,326.2 2005.0,322.5 2012.5,318.8 2020.5,319.6 2029.7,319.3 2035.5,323.5 2040.0,327.6 2043.1,332.2 2046.2,337.9 2054.5,342.1 2045.1,346.2 2049.9,350.1 2056.6,354.5 2050.3,358.6 2050.6,364.5 2051.1,371.6 2050.0,378.0 2051.7,386.2 2050.8,392.5 2048.3,398.6 2043.3,403.8 2041.0,410.0 2037.7,415.9 2035.2,423.1 2031.0,430.0 2027.5,437.3 2024.6,444.2 2022.5,450.0 2019.1,456.8 2015.5,463.3 2012.5,470.0 2007.7,475.7 2004.9,482.8 2000.0,490.0 1995.6,495.3 1990.9,502.5 1985.0,507.5 1975.0,505.0 1978.0,511.4 1980.2,517.1 1982.5,522.5 1978.0,530.0 1975.0,537.5 1968.2,533.2 1960.0,530.0 1960.2,537.0 1958.6,542.2 1958.0,548.5 1957.5,555.0 1947.5,552.5 1947.7,561.0 1946.0,570.0 1937.5,572.5 1934.1,579.2 1932.5,587.5 1930.4,594.7 1927.5,600.0 1922.5,596.0 1918.7,601.7 1915.0,607.5 1905.0,612.5 1904.3,619.0 1902.8,624.7 1902.7,630.7 1901.2,635.8 1901.0,642.5 1898.3,637.1 1895.9,630.2 1893.8,623.8 1886.0,627.5 1882.6,633.0 1880.0,640.0 1872.5,640.0 1871.6,648.1 1872.5,655.0 1862.5,655.0 1860.0,660.0 1852.5,662.5 1847.5,670.0 1840.0,672.5 1835.6,677.2 1830.0,682.5 1820.0,680.0 1815.0,690.0 1807.5,692.5 1801.6,691.0 1795.0,688.8 1794.5,696.5 1792.5,702.5 1782.5,705.0 1777.5,702.5 1774.8,709.7 1772.5,715.0 1767.2,713.9 1760.0,712.5 1760.3,718.6 1758.9,724.3 1758.8,731.0 1753.9,725.3 1747.5,721.0 1740.0,730.0 1731.6,728.6 1725.0,726.0 1723.5,732.6 1721.5,738.4 1718.8,746.0 1713.9,741.3 1710.0,737.5 1702.8,738.6 1696.0,741.0" fill="none" stroke="#CC99FF" stroke-width="11.5" />
<polyline points="1696.0,741.0 1687.5,750.0 1678.8,732.5 1678.8,765.0 1670.0,750.0 1647.5,753.8 1620.0,763.8 1590.0,768.8 1557.5,800.0 1485.0,880.0 1475.0,890.0 1465.0,905.0 1410.0,960.0 1367.5,1002.5 1325.0,1038.8 1265.0,1077.5 1207.5,1110.0 1155.0,1147.5 1102.5,1175.0 1050.0,1180.0 1000.0,1188.8 1102.5,1175.0 1040.0,1182.5 967.5,1193.8 910.0,1225.0 885.0,1228.8 862.5,1242.5 850.0,1253.8 822.5,1260.0 808.8,1207.5 790.0,1225.0 780.0,1231.2 765.0,1231.2 757.5,1235.0 747.5,1226.2 730.0,1221.2 710.0,1220.0 710.0,1205.0 700.0,1197.5 697.5,1177.5 697.5,1145.0" fill="none" stroke="#CC99FF" stroke-width="10" />
<polyline points="697.5,1160.0 693.4,1162.6 686.5,1167.7 682.5,1170.0 675.6,1171.7 670.0,1175.0 660.0,1170.0 652.8,1172.8 645.0,1176.2 639.9,1177.8 634.3,1180.1 627.5,1182.5 619.0,1183.4 610.0,1182.5 607.9,1177.5 605.4,1169.9 602.5,1165.0 597.0,1160.2 590.0,1155.0 583.8,1147.5 584.6,1140.2 586.9,1134.3 587.5,1127.5 593.4,1122.2 598.4,1116.0 602.5,1110.0 607.1,1103.6 610.4,1097.6 615.0,1090.0 619.6,1084.7 625.9,1078.6 630.0,1072.5 631.0,1067.3 633.7,1060.2 635.0,1055.0 637.5,1045.0 648.8,1042.5 648.5,1033.8 650.0,1025.0 660.0,1020.0 665.3,1014.6 672.5,1007.5 674.2,1000.0 675.7,992.8 677.5,985.0 683.3,989.6 687.5,995.0 687.7,988.9 688.1,982.7 689.1,976.1 689.8,970.1 690.0,963.8 692.5,970.2 696.4,974.4 700.0,980.0 701.1,974.0 702.5,966.2 713.8,970.0 715.0,963.8 714.2,956.7 715.5,950.6 715.0,945.0 718.8,952.2 722.5,960.0 723.4,952.2 725.0,945.0 731.9,940.9 740.0,938.8 744.4,944.3 748.8,948.8 749.0,940.0 748.8,932.5 754.8,927.9 760.0,925.0 765.0,928.8 776.2,925.0 777.0,919.7 779.0,913.0 779.8,907.2 780.0,901.2 790.0,905.0 795.0,901.0 801.0,897.2 805.0,892.5 811.2,889.2 817.5,885.0 819.0,878.1 820.6,872.5 821.5,866.2 822.5,858.8 826.5,865.6 832.5,872.5 837.8,868.4 842.5,865.0 844.3,859.1 847.4,852.0 850.0,846.2 854.1,851.6 860.0,855.0 861.0,848.0 862.5,842.5 868.2,840.8 875.0,840.0 882.0,835.6 887.5,832.5 892.9,829.2 899.1,826.9 905.0,825.0 910.5,823.0 917.5,820.7 922.5,817.5 929.1,818.5 937.5,820.0 945.0,811.2 953.2,807.8 960.0,806.2 970.0,807.5 972.7,801.2 976.4,795.5 980.0,788.8 986.7,792.4 992.5,796.2 993.2,789.5 995.0,783.8 1000.8,783.5 1007.5,785.0 1009.1,776.2 1010.0,768.8 1017.0,770.3 1022.5,771.2 1027.9,775.0 1035.0,778.8 1042.7,773.5 1050.0,770.0 1058.7,770.3 1067.5,772.5 1069.7,765.7 1071.1,761.8 1072.5,755.0 1080.7,755.7 1087.5,757.5 1095.0,755.0" fill="none" stroke="#CC99FF" stroke-width="11.5" />
<polyline points="698.0,1160.0 695.5,1153.2 691.7,1145.0 696.1,1136.1 699.3,1127.3 701.2,1119.8 705.7,1113.3 710.0,1107.1 715.0,1097.0 719.5,1089.5 723.9,1083.2 728.5,1078.1 734.0,1073.1 739.0,1063.0 743.0,1056.6 747.8,1050.4 751.4,1042.8 756.6,1036.6 762.0,1030.2 766.7,1024.0 771.2,1029.4 775.6,1034.0 775.4,1040.1 776.1,1047.7 775.9,1054.6 776.4,1061.0 775.6,1068.0 769.3,1078.2 765.9,1083.0 761.7,1088.2 757.4,1094.8 752.9,1100.8 746.6,1109.7 741.3,1114.1 736.5,1119.8 732.1,1125.8 727.7,1131.1 722.8,1136.1 717.6,1141.2 714.0,1145.7 710.0,1151.3 704.5,1154.4 700.0,1158.0" fill="none" stroke="#CC99FF" stroke-width="12" />
<polyline points="1970.7,330.0 1971.0,336.7 1970.2,343.1 1970.2,348.8 1970.0,355.1 1970.1,361.1 1971.1,367.4 1970.6,373.7 1970.7,379.3 1965.5,387.6 1964.2,394.2 1961.4,402.1 1957.3,408.0 1953.1,412.4 1951.4,418.5 1949.0,424.8 1944.5,431.7 1940.7,437.2 1935.9,444.9 1932.4,451.7 1928.3,462.1 1924.7,467.8 1920.0,474.5 1919.0,472.4 1918.7,465.4 1919.1,458.7 1919.6,452.9 1919.0,445.5 1918.7,439.9 1918.3,432.5 1919.0,426.9 1921.8,420.1 1924.1,412.4 1927.7,408.0 1930.3,402.1 1933.0,394.5 1934.5,387.6 1939.0,381.0 1942.8,373.1 1946.2,365.8 1951.0,358.6 1953.5,351.8 1957.2,346.2 1963.9,341.3 1970.7,335.9" fill="none" stroke="#CC99FF" stroke-width="12" />
<path d="M1091,742 L1097,735 L1101,732.5 L1122,732.5 L1124,735 L1124,768 L1121,770 L1115,770 L1113,774.5 L1106,774.5 L1104,770 L1104,764 L1091,764 Z" fill="#CC99FF"/>
<path d="M1664.5,734 L1667,732 L1674,732 L1674,729 L1677,727 L1682,727 L1684,729 L1684,736 L1688,738 L1690,742 L1693,745 L1693,768 L1691,770 L1686,770 L1684,768 L1682,770 L1667,770 L1664.5,767 Z" fill="#CC99FF"/>
<rect x="1971.5" y="501.5" width="21" height="27" fill="#CC99FF"/>
<line x1="619.3" y1="1496.7" x2="687.2" y2="1419.2" stroke="#00FF00" stroke-width="15.5" stroke-linecap="butt" shape-rendering="geometricPrecision"/>
<line x1="722.1" y1="1379.4" x2="790.0" y2="1302.0" stroke="#00FF00" stroke-width="15.5" stroke-linecap="butt" shape-rendering="geometricPrecision"/>
<line x1="825.0" y1="1262.1" x2="892.9" y2="1184.7" stroke="#00FF00" stroke-width="15.5" stroke-linecap="butt" shape-rendering="geometricPrecision"/>
<line x1="927.8" y1="1144.8" x2="995.7" y2="1067.4" stroke="#00FF00" stroke-width="15.5" stroke-linecap="butt" shape-rendering="geometricPrecision"/>
<line x1="1030.7" y1="1027.5" x2="1098.6" y2="950.1" stroke="#00FF00" stroke-width="15.5" stroke-linecap="butt" shape-rendering="geometricPrecision"/>
<line x1="1133.5" y1="910.2" x2="1201.4" y2="832.8" stroke="#00FF00" stroke-width="15.5" stroke-linecap="butt" shape-rendering="geometricPrecision"/>
<line x1="1236.4" y1="792.9" x2="1304.3" y2="715.5" stroke="#00FF00" stroke-width="15.5" stroke-linecap="butt" shape-rendering="geometricPrecision"/>
<line x1="1339.2" y1="675.6" x2="1407.1" y2="598.2" stroke="#00FF00" stroke-width="15.5" stroke-linecap="butt" shape-rendering="geometricPrecision"/>
<line x1="1442.1" y1="558.3" x2="1510.0" y2="480.9" stroke="#00FF00" stroke-width="15.5" stroke-linecap="butt" shape-rendering="geometricPrecision"/>
<line x1="1544.9" y1="441.0" x2="1612.8" y2="363.6" stroke="#00FF00" stroke-width="15.5" stroke-linecap="butt" shape-rendering="geometricPrecision"/>
<line x1="1647.8" y1="323.7" x2="1715.7" y2="246.3" stroke="#00FF00" stroke-width="15.5" stroke-linecap="butt" shape-rendering="geometricPrecision"/>
<line x1="1750.6" y1="206.4" x2="1818.5" y2="129.0" stroke="#00FF00" stroke-width="15.5" stroke-linecap="butt" shape-rendering="geometricPrecision"/>
<line x1="1853.5" y1="89.1" x2="1921.4" y2="11.7" stroke="#00FF00" stroke-width="15.5" stroke-linecap="butt" shape-rendering="geometricPrecision"/>
<polyline points="540.4,1272.5 860.5,1245.0 941.0,1174.0 1039.5,1078.6 1269.5,750.4 1498.3,421.0 1595.4,326.5 1678.0,254.5 1998.7,228.5" fill="none" stroke="#FF0000" stroke-width="15" shape-rendering="geometricPrecision"/>
</g>
<rect x="1466.8" y="971.4" width="950" height="368.4" fill="#fff"/>
<g shape-rendering="crispEdges" stroke-linecap="round">
<line x1="1523" y1="1023.8" x2="1759.3" y2="1023.8" stroke="#0000FF" stroke-width="10"/>
<line x1="1523.5" y1="1113.3" x2="1758.8" y2="1113.3" stroke="#CC99FF" stroke-width="11"/>
<line x1="1523" y1="1196" x2="1760" y2="1196" stroke="#00FF00" stroke-width="15.6" stroke-dasharray="100 56" stroke-linecap="butt"/>
<line x1="1523.5" y1="1287.2" x2="1759.5" y2="1287.2" stroke="#FF0000" stroke-width="15"/>
</g>
<text transform="translate(1784.00 1045.20) scale(0.9544 1)" x="-5.82" y="0" font-size="71" >Exp. T3 UC-IP2</text>
<text transform="translate(1784.00 1134.70) scale(0.9544 1)" x="-5.82" y="0" font-size="71" >Exp. T4 UC-IP2</text>
<text transform="translate(1784.00 1223.40) scale(0.9690 1)" x="-5.82" y="0" font-size="71" >Hor. stiff. 70KN/mm</text>
<text transform="translate(1784.00 1313.00) scale(0.9571 1)" x="-5.82" y="0" font-size="71" >Num. UC-IP2</text>
<text transform="translate(520.00 74.30) scale(1.0095 1)" x="-3.09" y="0" font-size="68" >Specimen UC-IP2: RC frame with Un. Con. infill panel</text>
<text transform="translate(231.30 277.00) scale(0.9682 1)" x="-6.25" y="0" font-size="81" >Unreinforced</text>
<text transform="translate(229.20 380.60) scale(0.9775 1)" x="-3.44" y="0" font-size="81" >concrete</text>
<text transform="translate(231.30 484.00) scale(0.9468 1)" x="-5.22" y="0" font-size="81" >panel. 8mm</text>
<text transform="translate(229.00 587.30) scale(0.9317 1)" x="-2.25" y="0" font-size="81" >steel ties with</text>
<text transform="translate(231.00 690.60) scale(0.9587 1)" x="-6.64" y="0" font-size="81" >RC frame</text>
<text transform="translate(21.80 1455.30) scale(1.0023 1)" x="-4.55" y="0" font-size="68.5" >max load 338.8KN</text>
<text transform="translate(21.80 1543.10) scale(1.0026 1)" x="-4.55" y="0" font-size="68.5" >min load 337.98KN</text>
<text transform="translate(912.60 1543.10) scale(1.0161 1)" x="-1.54" y="0" font-size="68.5" >Top beam Hor. displacement (mm)</text>
<text transform="translate(1102.00 178.70) scale(0.9577 1)" x="-1.64" y="0" font-size="71.5" >400</text>
<text transform="translate(1102.00 330.50) scale(0.9668 1)" x="-2.72" y="0" font-size="71.5" >300</text>
<text transform="translate(1102.00 480.50) scale(0.9743 1)" x="-3.60" y="0" font-size="71.5" >200</text>
<text transform="translate(1105.00 626.50) scale(0.9635 1)" x="-5.45" y="0" font-size="71.5" >100</text>
<text transform="translate(1179.00 776.50) scale(0.9655 1)" x="-2.79" y="0" font-size="71.5" >0</text>
<text transform="translate(1078.70 927.50) scale(0.9720 1)" x="-3.18" y="0" font-size="71.5" >-100</text>
<text transform="translate(1078.70 1078.50) scale(0.9720 1)" x="-3.18" y="0" font-size="71.5" >-200</text>
<text transform="translate(1078.70 1224.50) scale(0.9720 1)" x="-3.18" y="0" font-size="71.5" >-300</text>
<text transform="translate(1078.70 1374.30) scale(0.9720 1)" x="-3.18" y="0" font-size="71.5" >-400</text>
<text transform="translate(128.70 880.30) scale(0.9817 1)" x="-3.18" y="0" font-size="71.5" >-12</text>
<text transform="translate(311.80 880.30) scale(0.9674 1)" x="-3.18" y="0" font-size="71.5" >-10</text>
<text transform="translate(513.50 880.30) scale(1.0281 1)" x="-3.18" y="0" font-size="71.5" >-8</text>
<text transform="translate(692.50 880.30) scale(1.0270 1)" x="-3.18" y="0" font-size="71.5" >-6</text>
<text transform="translate(877.00 880.30) scale(0.9742 1)" x="-3.18" y="0" font-size="71.5" >-4</text>
<text transform="translate(1060.00 880.30) scale(0.9912 1)" x="-3.18" y="0" font-size="71.5" >-2</text>
<text transform="translate(1254.00 880.30) scale(0.9655 1)" x="-2.79" y="0" font-size="71.5" >0</text>
<text transform="translate(1435.40 880.30) scale(1.0315 1)" x="-3.60" y="0" font-size="71.5" >2</text>
<text transform="translate(1619.00 880.30) scale(0.9603 1)" x="-1.64" y="0" font-size="71.5" >4</text>
<text transform="translate(1796.40 880.30) scale(1.0791 1)" x="-3.63" y="0" font-size="71.5" >6</text>
<text transform="translate(1982.50 880.30) scale(0.9985 1)" x="-3.11" y="0" font-size="71.5" >8</text>
<text transform="translate(2150.60 880.30) scale(0.9735 1)" x="-5.45" y="0" font-size="71.5" >10</text>
<text transform="translate(2335.20 880.30) scale(0.9335 1)" x="-5.45" y="0" font-size="71.5" >12</text>
<g clip-path="url(#ycl)"><text transform="translate(79.3 1053.8) rotate(-90) scale(0.9837 1)" x="-5.82" y="0" font-size="71">Hor. cyclic load (KN<tspan dx="5.5">)</tspan></text></g>
</svg></body></html>
